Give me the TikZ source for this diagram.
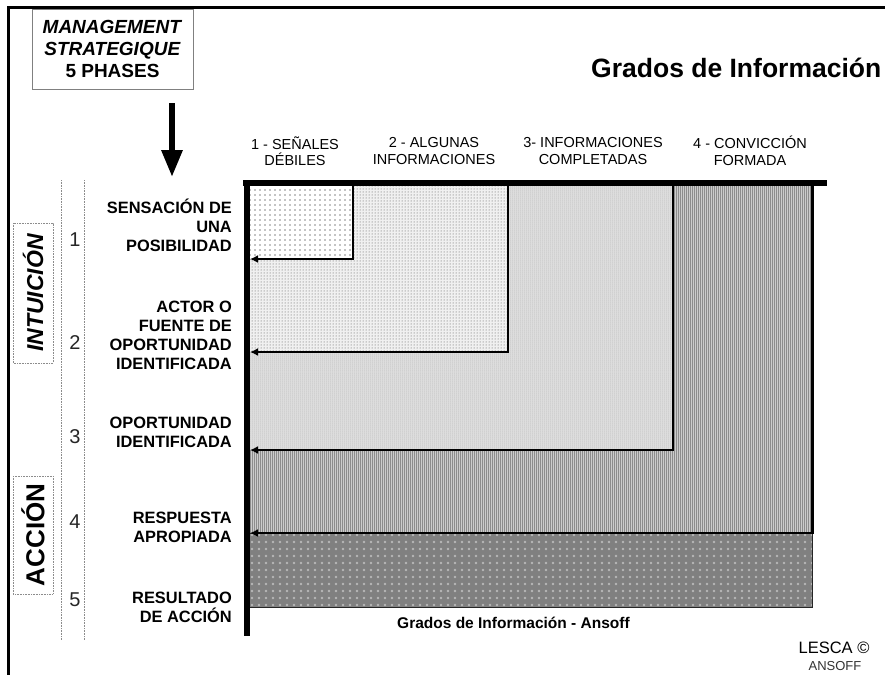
\documentclass[tikz,border=0pt]{standalone}
\usepackage{fontspec}
\setmainfont{Liberation Sans}
\usetikzlibrary{arrows.meta,patterns.meta}
\newcommand{\fsz}[2]{\fontsize{#1}{#2}\selectfont}
\begin{document}
\begin{tikzpicture}[x=1pt,y=-1pt,
  lbl/.style={anchor=east,align=right,inner sep=0pt,font=\bfseries\fsz{16.4}{19}},
  hdr/.style={align=center,inner sep=0pt,font=\fsz{14.5}{16.5}},
  num/.style={inner sep=0pt,font=\fsz{20}{22},text=black!85},
  sidebox/.style={draw=black!45,dash pattern=on 0.8pt off 0.8pt,line width=0.7pt,rotate=90,minimum height=40pt,inner sep=0pt},
  regline/.style={line width=2.6pt,-{Latex[length=8pt,width=8pt]}},
  axis/.style={line width=6pt},
  guide/.style={draw=black!45,dash pattern=on 0.8pt off 0.8pt,line width=0.7pt}
]
\useasboundingbox (0,0) rectangle (885,675);
\fill[white] (0,0) rectangle (885,675);

% frame
\coordinate (fTR) at (885,7);
\coordinate (fTL) at (8.5,7);
\coordinate (fBL) at (8.5,675);
\draw[line width=3pt] (fTR) -- (fTL) -- (fBL);

% management box
\node[draw=black!50,line width=0.9pt,minimum width=161pt,minimum height=80pt,align=center,inner sep=0pt,
      font=\bfseries\fsz{19}{22}] (mgmt) at (112.5,49)
  {\textit{MANAGEMENT}\\\textit{STRATEGIQUE}\\5 PHASES};

% big arrow
\coordinate (arrS) at (172,103);
\coordinate (arrE) at (172,177);
\draw[line width=6pt,-{Triangle[length=27pt,width=20pt]}] (arrS) -- (arrE);

% title
\node[anchor=west,inner sep=0pt,font=\bfseries\fsz{26.5}{30}] (title) at (591,68) {Grados de Información};

% headers
\node[hdr] (h1) at (295,151) {1 - SEÑALES\\DÉBILES};
\node[hdr] (h2) at (434,151) {2 - ALGUNAS\\INFORMACIONES};
\node[hdr] (h3) at (593,151) {3- INFORMACIONES\\COMPLETADAS};
\node[hdr] (h4) at (750,151) {4 - CONVICCIÓN\\FORMADA};

% regions, layered from outer to inner
% region 4
\fill[black!20] (248,185) rectangle (812.5,533);
\path[pattern={Lines[angle=90,distance=2pt,line width=0.5pt]},pattern color=black!45] (248,185) rectangle (812.5,533);
% region 3
\fill[black!10] (248,185) rectangle (673,450);
\path[pattern={Dots[distance=2pt,radius=0.5pt]},pattern color=black!45] (248,185) rectangle (673,450);
% region 2
\fill[black!6] (248,185) rectangle (508,352);
\path[pattern={Dots[distance=3pt,radius=0.5pt]},pattern color=black!70] (248,185) rectangle (508,352);
% region 1
\fill[white] (248,185) rectangle (353,259);
\path[pattern={Dots[distance=5pt,radius=0.55pt]},pattern color=black] (248,185) rectangle (353,259);
% region 5
\fill[black!50] (248,533) rectangle (812.5,607);
\path[pattern={Dots[distance=7pt,radius=1.4pt]},pattern color=black!28] (248,533) rectangle (812.5,607);
\draw[black!85,line width=0.8pt] (248,533) rectangle (812.5,607);

% region borders with arrows
\coordinate (c1) at (353,185); \coordinate (e1) at (250,259);
\coordinate (c2) at (508,185); \coordinate (e2) at (250,352);
\coordinate (c3) at (673,185); \coordinate (e3) at (250,450);
\coordinate (c4) at (812.5,185); \coordinate (e4) at (250,533);
\draw[regline] (c1) |- (e1);
\draw[regline] (c2) |- (e2);
\draw[regline] (c3) |- (e3);
\draw[regline] (c4) |- (e4);

% axes
\coordinate (axL) at (243,183); \coordinate (axR) at (827,183);
\coordinate (ayT) at (246.5,180); \coordinate (ayB) at (246.5,636);
\draw[axis] (axL) -- (axR);
\draw[axis] (ayT) -- (ayB);

% row labels
\node[lbl] (l1) at (232,225) {SENSACIÓN DE\\UNA\\POSIBILIDAD};
\node[lbl] (l2) at (232,335) {ACTOR O\\FUENTE DE\\OPORTUNIDAD\\IDENTIFICADA};
\node[lbl] (l3) at (232,432) {OPORTUNIDAD\\IDENTIFICADA};
\node[lbl] (l4) at (232,527.5) {RESPUESTA\\APROPIADA};
\node[lbl] (l5) at (232,607) {RESULTADO\\DE ACCIÓN};

% numbers
\node[num] (n1) at (75,240) {1};
\node[num] (n2) at (75,343) {2};
\node[num] (n3) at (75,437) {3};
\node[num] (n4) at (75,522) {4};
\node[num] (n5) at (75,600) {5};

% guide lines
\coordinate (g1t) at (61,180); \coordinate (g1b) at (61,640);
\coordinate (g2t) at (84.5,180); \coordinate (g2b) at (84.5,640);
\draw[guide] (g1t) -- (g1b);
\draw[guide] (g2t) -- (g2b);

% side boxes
\node[sidebox,minimum width=140pt,font=\bfseries\itshape\fsz{23}{26}] (intu) at (33,293) {INTUICIÓN};
\node[sidebox,minimum width=118pt,font=\bfseries\fsz{26}{28}] (accion) at (33,535) {ACCIÓN};

% bottom captions
\node[anchor=west,inner sep=0pt,font=\bfseries\fsz{15.5}{18}] (cap) at (397,623) {Grados de Información - Ansoff};
\node[inner sep=0pt,font=\fsz{16.5}{19}] (lesca) at (834,648) {LESCA ©};
\node[inner sep=0pt,font=\fsz{13}{15},text=black!80] (ansoffn) at (835,666) {ANSOFF};
\end{tikzpicture}
\end{document}
